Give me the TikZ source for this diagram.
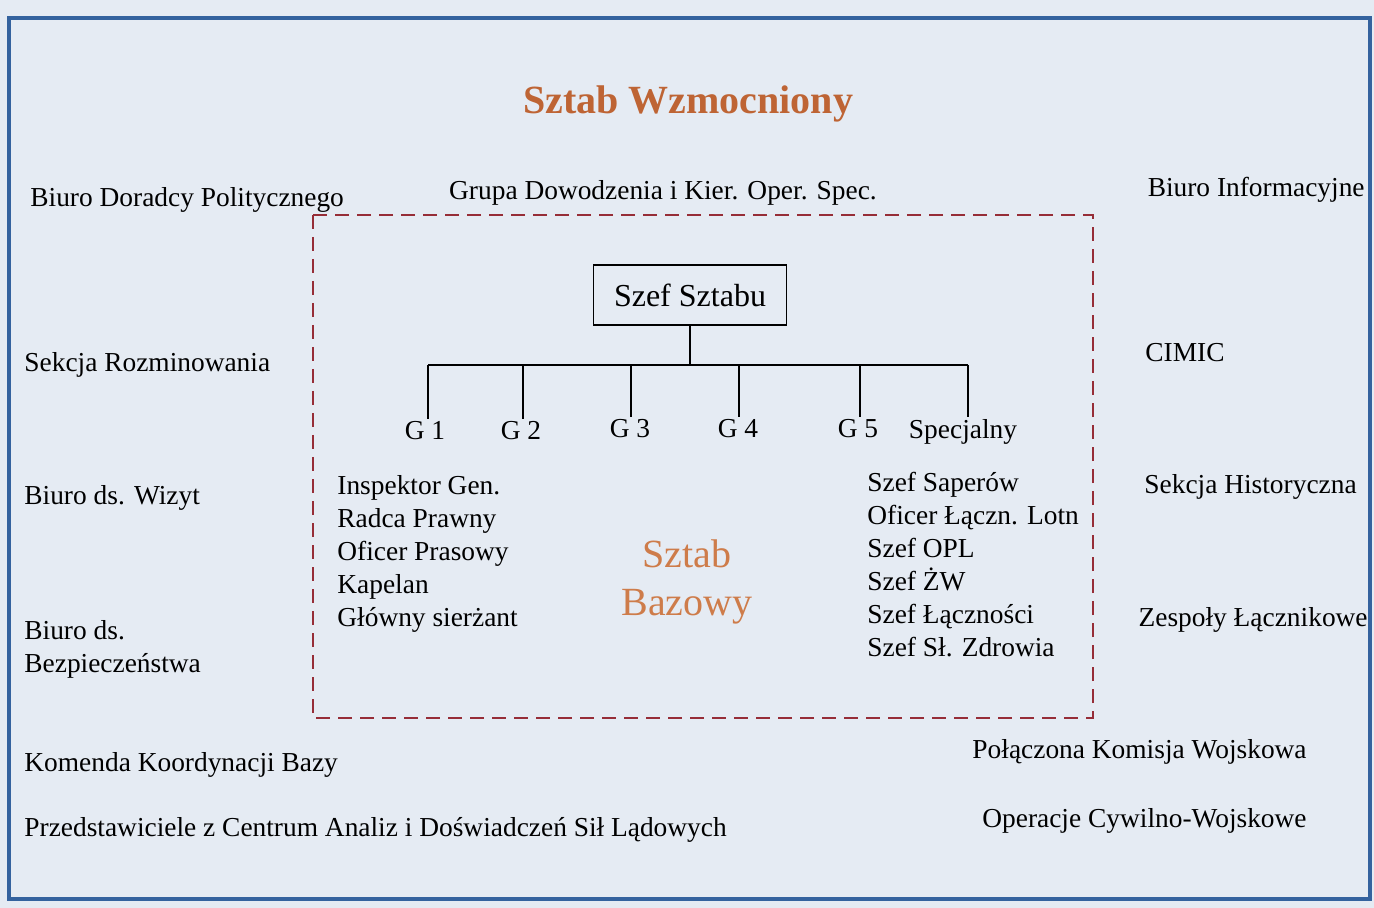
\documentclass[tikz,border=0pt]{standalone}
\usepackage{fontspec}
\setmainfont{Liberation Serif}
\usetikzlibrary{positioning, calc}
\definecolor{paper}{RGB}{229,235,243}
\definecolor{framebl}{RGB}{52,98,158}
\definecolor{dashred}{RGB}{150,45,55}
\definecolor{rust}{RGB}{190,100,52}
\definecolor{rustlt}{RGB}{206,124,74}

\begin{document}
\begin{tikzpicture}[
    x=0.5pt, y=-0.5pt,
    every node/.style={font=\fontsize{13.7}{16.5}\selectfont, inner sep=1pt},
    lbl/.style={anchor=west},
    head/.style={font=\fontsize{20}{22}\selectfont\bfseries, text=rust},
    boss/.style={draw, line width=0.8pt, minimum width=96.5pt, minimum height=30pt,
                 font=\fontsize{16}{18}\selectfont},
    grp/.style={anchor=north},
    list/.style={anchor=west, align=left},
    core/.style={align=center, text=rustlt, font=\fontsize{20}{24}\selectfont},
    tree/.style={line width=0.8pt},
    base/.style={draw=dashred, dash pattern=on 7pt off 4pt, line width=0.7pt}
  ]
  \fill[paper] (0,0) rectangle (1374,908);
  \useasboundingbox (0,0) rectangle (1374,908);
  \draw[framebl, line width=1.6pt] (9,18) rectangle (1370,899);

  \node[head] (title) at (688,104) {Sztab Wzmocniony};

  % outer cells
  \node[lbl] (polit) at (28,200) {Biuro Doradcy Politycznego};
  \node (grupa) at (663,193) {Grupa Dowodzenia i Kier. Oper. Spec.};
  \node[anchor=east] (info) at (1367,190) {Biuro Informacyjne};
  \node[lbl] (rozmin) at (22,365) {Sekcja Rozminowania};
  \node[lbl] (wizyt) at (22,498) {Biuro ds. Wizyt};
  \node[lbl, align=left] (bezp) at (22,649) {Biuro ds.\\Bezpieczeństwa};
  \node[lbl] (kkb) at (22,765) {Komenda Koordynacji Bazy};
  \node[lbl] (przed) at (22,830)
        {Przedstawiciele z Centrum Analiz i Doświadczeń Sił Lądowych};
  \node[lbl] (cimic) at (1143,353) {CIMIC};
  \node[lbl] (hist) at (1142,487) {Sekcja Historyczna};
  \node[anchor=east] (zesp) at (1370,620) {Zespoły Łącznikowe};
  \node[anchor=east] (pkw) at (1309,752) {Połączona Komisja Wojskowa};
  \node[anchor=east] (ocw) at (1309,821) {Operacje Cywilno-Wojskowe};

  % base staff
  \draw[base] (313,215) rectangle (1093,718);
  \node[boss] (szef) at (690,295) {Szef Sztabu};
  \coordinate (hub) at (690,365);
  \coordinate (b1) at (428,365);
  \coordinate (b2) at (523,365);
  \coordinate (b3) at (631,365);
  \coordinate (b4) at (739,365);
  \coordinate (b5) at (860,365);
  \coordinate (b6) at (968,365);

  \node[grp] (g1) at (425,419) {G 1};
  \node[grp] (g2) at (521,419) {G 2};
  \node[grp] (g3) at (630,417) {G 3};
  \node[grp] (g4) at (738,417) {G 4};
  \node[grp] (g5) at (858,417) {G 5};
  \node[grp] (spec) at (963,417) {Specjalny};

  \draw[tree] (szef) -- (hub);
  \draw[tree] (b1) -- (b6);
  \draw[tree] (b1) -- (b1 |- g1.north);
  \draw[tree] (b2) -- (b2 |- g2.north);
  \draw[tree] (b3) -- (b3 |- g3.north);
  \draw[tree] (b4) -- (b4 |- g4.north);
  \draw[tree] (b5) -- (b5 |- g5.north);
  \draw[tree] (b6) -- (b6 |- spec.north);

  \node[list] (lewa) at (335,554)
        {Inspektor Gen.\\Radca Prawny\\Oficer Prasowy\\Kapelan\\Główny sierżant};
  \node[list] (prawa) at (865,565)
        {Szef Saperów\\Oficer Łączn. Lotn\\Szef OPL\\Szef ŻW\\Szef Łączności\\Szef Sł. Zdrowia};
  \node[core] (baza) at (687,582) {Sztab\\Bazowy};
\end{tikzpicture}
\end{document}
